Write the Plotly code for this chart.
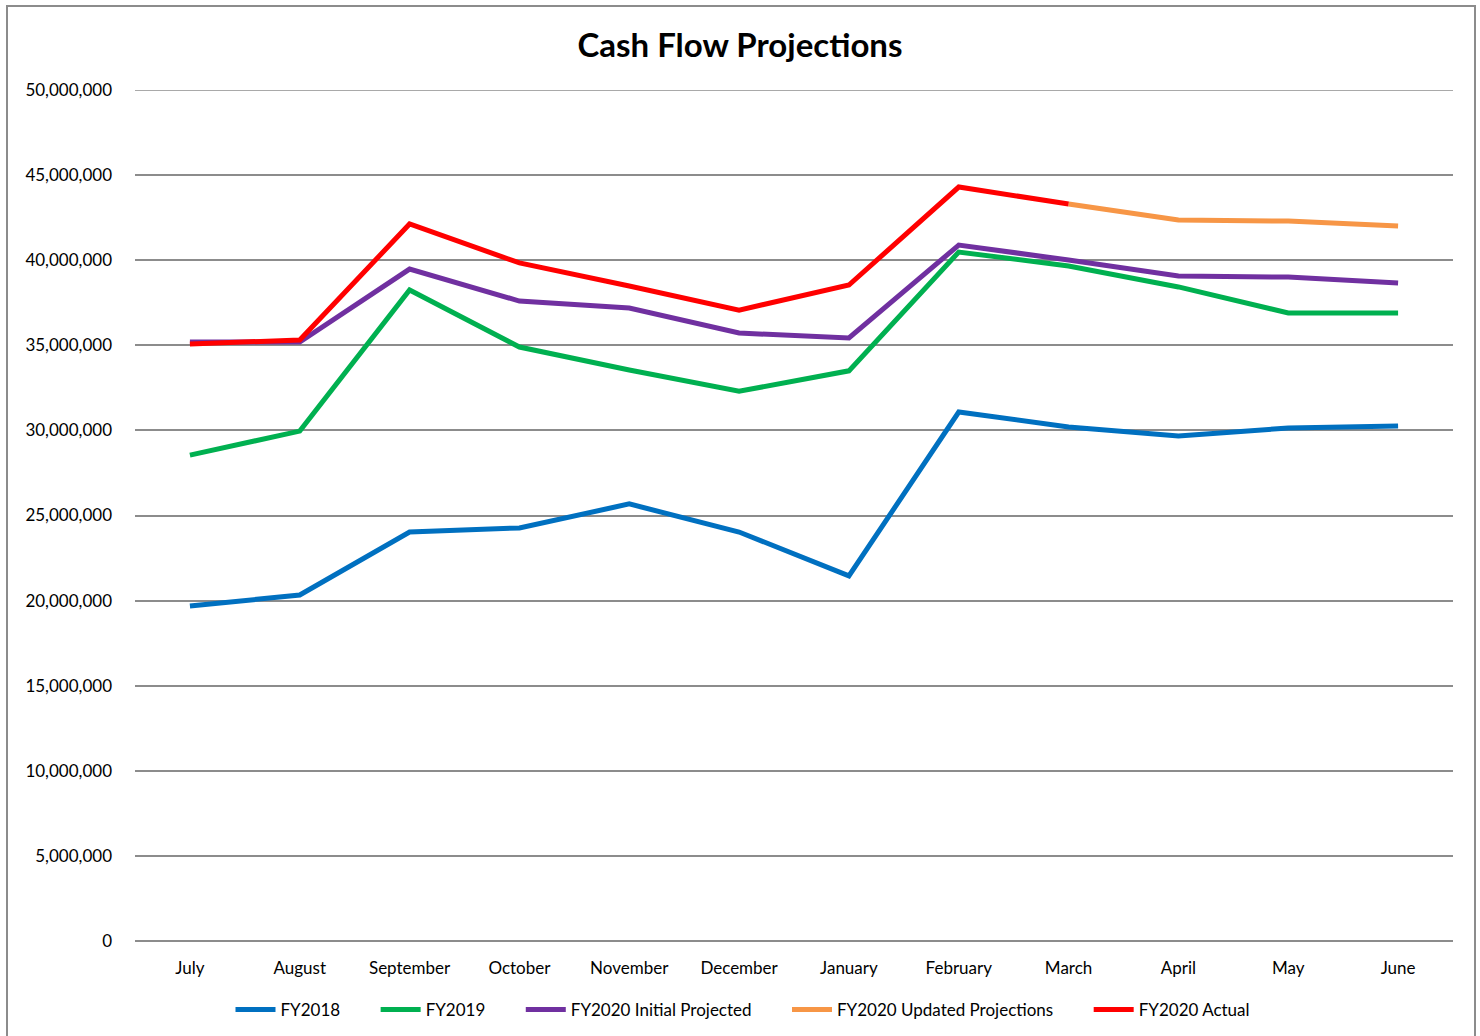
import plotly.graph_objects as go

months = ["July", "August", "September", "October", "November", "December",
          "January", "February", "March", "April", "May", "June"]

fy2018 = [19680000, 20330000, 24030000, 24270000, 25680000, 24030000,
          21450000, 31080000, 30200000, 29670000, 30140000, 30260000]
fy2019 = [28550000, 29960000, 38250000, 34900000, 33550000, 32300000,
          33500000, 40480000, 39660000, 38430000, 36900000, 36900000]
fy2020_initial = [35190000, 35190000, 39480000, 37600000, 37190000, 35720000,
                  35430000, 40890000, 40010000, 39070000, 39010000, 38660000]
fy2020_updated = [None, None, None, None, None, None,
                  None, None, 43300000, 42360000, 42300000, 42010000]
fy2020_actual = [35080000, 35310000, 42130000, 39840000, 38480000, 37070000,
                 38540000, 44300000, 43300000, None, None, None]

yticks = list(range(0, 50000001, 5000000))
ytick_labels = [f"{v:,}" for v in yticks]

series = [
    ("FY2018", fy2018, "#0070C0"),
    ("FY2019", fy2019, "#00B050"),
    ("FY2020 Initial Projected", fy2020_initial, "#7030A0"),
    ("FY2020 Updated Projections", fy2020_updated, "#F79646"),
    ("FY2020 Actual", fy2020_actual, "#FF0000"),
]

pad = "\u00a0" * 7

fig = go.Figure()
for i, (name, vals, color) in enumerate(series):
    label = name + (pad if i < len(series) - 1 else "")
    fig.add_trace(go.Scatter(
        x=months, y=vals, name=label, mode="lines",
        line=dict(color=color, width=5), connectgaps=False,
    ))

font_family = "Lato, 'Open Sans', sans-serif"
grid_color = "#8C8C8C"

fig.update_layout(
    width=1480, height=1036,
    margin=dict(l=135, r=27, t=90, b=95, autoexpand=False),
    paper_bgcolor="white", plot_bgcolor="white",
    font=dict(family=font_family, size=17, color="#000000"),
    title=dict(text="<b>Cash Flow Projections</b>", x=0.5, xanchor="center",
               y=1 - 45 / 1036, yanchor="middle",
               font=dict(family=font_family, size=33, color="#000000")),
    showlegend=True,
    legend=dict(orientation="h", x=(743 - 135) / 1318, xanchor="center",
                y=-0.081, yanchor="middle",
                font=dict(family=font_family, size=17), itemwidth=40,
                traceorder="normal", tracegroupgap=0),
    xaxis=dict(type="category", range=[-0.5, 11.5], showgrid=False, showline=False,
               ticks="", zeroline=False, tickfont=dict(size=17),
               ticklabelstandoff=15, automargin=False),
    yaxis=dict(range=[0, 50000000], tickvals=yticks, ticktext=ytick_labels,
               showgrid=True, gridcolor=grid_color, gridwidth=1.5,
               zeroline=True, zerolinecolor=grid_color, zerolinewidth=1.5,
               showline=False, ticks="", ticklabelstandoff=22,
               tickfont=dict(size=17), automargin=False),
)

# top gridline at the axis maximum (not drawn automatically at the edge)
fig.add_shape(type="line", xref="paper", yref="y", x0=0, x1=1,
              y0=yticks[-1], y1=yticks[-1],
              line=dict(color=grid_color, width=1.5), layer="below")

# chart area border
fig.add_shape(type="rect", xref="paper", yref="paper",
              x0=(7 - 135) / 1318, x1=(1475 - 135) / 1318,
              y0=-0.2, y1=(941 - 6) / 851,
              line=dict(color=grid_color, width=2), fillcolor="rgba(0,0,0,0)",
              layer="below")

fig.write_html("out.html")
